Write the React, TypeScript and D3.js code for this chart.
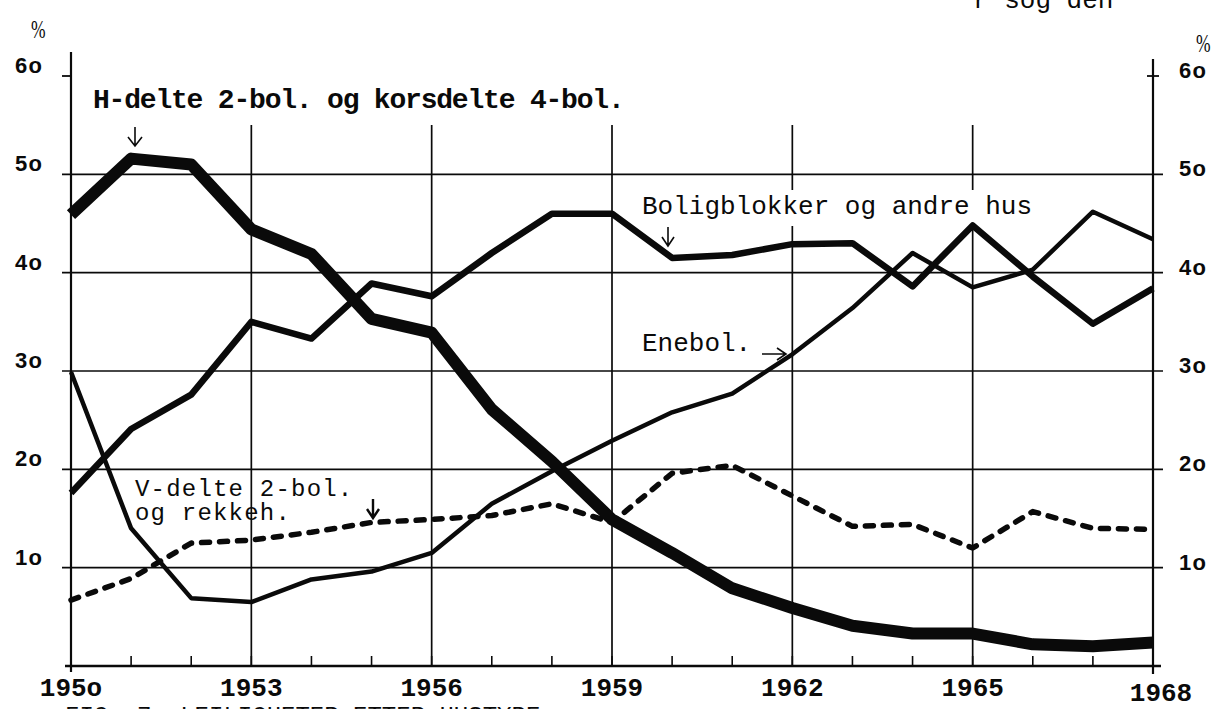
import React from 'react';
import * as d3 from 'd3';

const years = d3.range(1950, 1969);
const hdelte = [45.9, 51.6, 51.0, 44.4, 41.9, 35.3, 33.9, 26.1, 20.8, 14.9, 11.5, 7.9, 5.9, 4.1, 3.3, 3.3, 2.2, 2.0, 2.4];
const bolig = [17.6, 24.1, 27.6, 35.0, 33.3, 38.9, 37.6, 42.0, 46.0, 46.0, 41.5, 41.8, 42.9, 43.0, 38.6, 44.8, 39.6, 34.8, 38.4];
const enebol = [29.9, 14.0, 6.9, 6.5, 8.8, 9.6, 11.5, 16.5, 19.8, 22.9, 25.8, 27.7, 31.7, 36.4, 42.0, 38.5, 40.3, 46.2, 43.4];
const vdelte = [6.7, 8.9, 12.5, 12.8, 13.6, 14.6, 14.9, 15.3, 16.5, 14.6, 19.6, 20.4, 17.3, 14.2, 14.4, 12.0, 15.7, 14.0, 13.9];

const gridYears = [1953, 1956, 1959, 1962, 1965];
const xTickLabels = ['195o', '1953', '1956', '1959', '1962', '1965', '1968'];
const xTickYears = [1950, 1953, 1956, 1959, 1962, 1965, 1968];
const yTicks = [10, 20, 30, 40, 50, 60];
const yTickLabels = ['1o', '2o', '3o', '4o', '5o', '6o'];

const W = 1213;
const H = 709;
const mono = '"Liberation Mono", "DejaVu Sans Mono", monospace';
const sans = '"Liberation Sans", Arial, sans-serif';

const App = () => {
  const x = d3.scaleLinear().domain([1950, 1968]).range([71, 1153]);
  const y = d3.scaleLinear().domain([0, 60]).range([666, 76]);

  const line = d3
    .line<number>()
    .x((_, i) => x(years[i]))
    .y((d) => y(d))
    .curve(d3.curveLinear);

  const ink = '#0a0a0a';
  const x0 = x(1950);
  const x1 = x(1968);

  return (
    <div style={{ position: 'absolute', left: 0, top: 0, width: W, height: H, background: '#fff' }}>
      <svg width={W} height={H} style={{ display: 'block' }}>
        <rect width={W} height={H} fill="#fff" />

        {/* cut-off text above and below the figure */}
        <text x={973} y={8} fontFamily={mono} fontSize={26} fill={ink}>r  sog den</text>
        <text x={65} y={723} fontFamily={mono} fontSize={24} fill={ink}>FIG. 7.  LEILIGHETER ETTER HUSTYPE</text>

        {/* horizontal grid */}
        {yTicks.map((t) =>
          t === 60 ? (
            <g key={t}>
              <line x1={x0 - 9} x2={x0} y1={y(t)} y2={y(t)} stroke={ink} strokeWidth={1.8} />
              <line x1={x1 - 6} x2={x1 + 6} y1={y(t)} y2={y(t)} stroke={ink} strokeWidth={1.8} />
            </g>
          ) : (
            <line key={t} x1={x0 - 9} x2={x1 + 10} y1={y(t)} y2={y(t)} stroke={ink} strokeWidth={1.7} />
          )
        )}

        {/* vertical grid */}
        {gridYears.map((yr) => (
          <line key={yr} x1={x(yr)} x2={x(yr)} y1={125} y2={y(0)} stroke={ink} strokeWidth={1.7} />
        ))}

        {/* axes */}
        <line x1={x0} x2={x0} y1={52} y2={y(0) + 6} stroke={ink} strokeWidth={2.2} />
        <line x1={x1} x2={x1} y1={59} y2={y(0) + 8} stroke={ink} strokeWidth={2.2} />
        <line x1={x0 - 6} x2={x1 + 8} y1={y(0)} y2={y(0)} stroke={ink} strokeWidth={2.4} />
        {years.map((yr) => (
          <line key={yr} x1={x(yr)} x2={x(yr)} y1={y(0)} y2={y(0) - 10} stroke={ink} strokeWidth={1.6} />
        ))}

        {/* y tick labels */}
        {yTicks.map((t, i) => (
          <g key={t}>
            <text x={15} y={y(t) - 3} fontFamily={sans} fontWeight="bold" fontSize={22} letterSpacing={1.2} fill={ink}>
              {yTickLabels[i]}
            </text>
            <text x={1179} y={y(t) + 2} fontFamily={sans} fontWeight="bold" fontSize={22} letterSpacing={1.2} fill={ink}>
              {yTickLabels[i]}
            </text>
          </g>
        ))}

        {/* x tick labels */}
        {xTickYears.map((yr, i) => (
          <text
            key={yr}
            x={x(yr) + (yr === 1968 ? 8 : 0)}
            y={yr === 1968 ? 701 : 696}
            textAnchor="middle"
            fontFamily={mono}
            fontWeight="bold"
            fontSize={26}
            fill={ink}
          >
            {xTickLabels[i]}
          </text>
        ))}

        {/* percent signs */}
        <text transform="translate(31,38) scale(0.7,1)" fontFamily='"Liberation Serif", serif' fontSize={25} fill={ink}>%</text>
        <text transform="translate(1196,52) scale(0.7,1)" fontFamily='"Liberation Serif", serif' fontSize={25} fill={ink}>%</text>

        {/* knockout behind the label that crosses the grid */}
        <rect x={640} y={190} width={404} height={36} fill="#fff" />

        {/* series */}
        <path d={line(vdelte) || ''} fill="none" stroke={ink} strokeWidth={5.5} strokeDasharray="8 10" strokeLinecap="round" strokeLinejoin="round" />
        <path d={line(enebol) || ''} fill="none" stroke={ink} strokeWidth={4.5} strokeLinejoin="round" />
        <path d={line(bolig) || ''} fill="none" stroke={ink} strokeWidth={6.5} strokeLinejoin="round" />
        <path d={line(hdelte) || ''} fill="none" stroke={ink} strokeWidth={12} strokeLinejoin="round" />

        {/* annotations */}
        <text x={93} y={108} fontFamily={mono} fontWeight="bold" fontSize={28} letterSpacing={-1.2} fill={ink}>
          H-delte 2-bol. og korsdelte 4-bol.
        </text>
        <g stroke={ink} strokeWidth={1.6} fill="none">
          <path d="M135,127 V146 M128,137 L135,146 L142,137" />
          <path d="M668,227 V246 M662,237 L668,246 L674,237" />
          <path d="M762,354 H786 M777,348 L786,354 L777,360" />
          <path d="M373,499 V518 M367,509 L373,518 L379,509" strokeWidth={2.4} />
        </g>
        <text x={642} y={214} fontFamily={mono} fontSize={26} fill={ink}>Boligblokker og andre hus</text>
        <text x={642} y={351} fontFamily={mono} fontSize={26} fill={ink}>Enebol.</text>
        <text x={135} y={496} fontFamily={mono} fontSize={24} letterSpacing={1.2} fill={ink}>V-delte 2-bol.</text>
        <text x={135} y={520} fontFamily={mono} fontSize={24} letterSpacing={1.2} fill={ink}>og rekkeh.</text>
      </svg>
    </div>
  );
};

export default App;
